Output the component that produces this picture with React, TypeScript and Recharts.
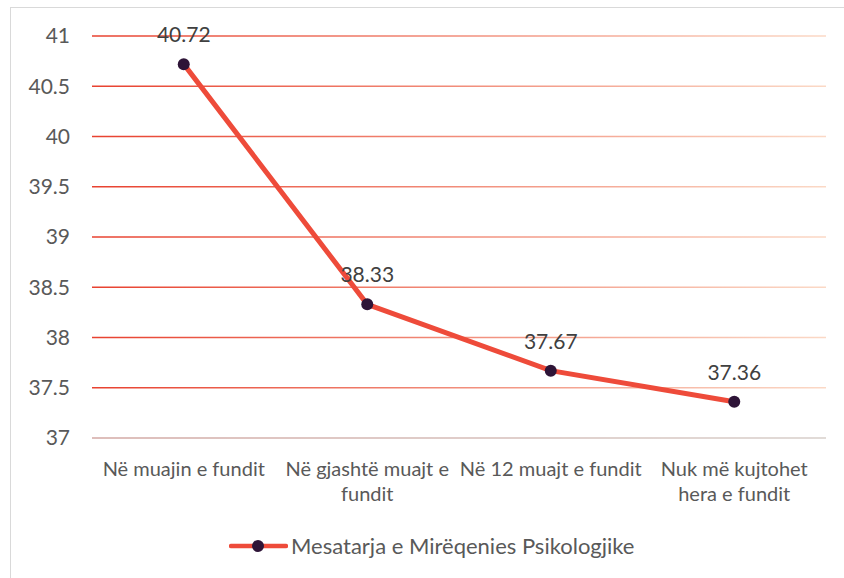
import { LineChart, Line, XAxis, YAxis, CartesianGrid, LabelList, Legend } from 'recharts';

const CATEGORIES = [
  'Në muajin e fundit',
  'Në gjashtë muajt e fundit',
  'Në 12 muajt e fundit',
  'Nuk më kujtohet hera e fundit',
];
const MEAN_VALUES = [40.72, 38.33, 37.67, 37.36];
const Y_TICKS = [37, 37.5, 38, 38.5, 39, 39.5, 40, 40.5, 41];
const SERIES_NAME = 'Mesatarja e Mirëqenies Psikologjike';

const data = CATEGORIES.map((name, i) => ({ name, value: MEAN_VALUES[i] }));

const FONT = 'Lato, "Open Sans", sans-serif';
const LINE_RED = '#EE4B3A';
const DOT_DARK = '#2E1437';
const TICK_SIZE = 20;

let measureCtx: CanvasRenderingContext2D | null = null;
function wrapLabel(text: string, maxWidth: number): string[] {
  if (!measureCtx) measureCtx = document.createElement('canvas').getContext('2d');
  if (!measureCtx) return [text];
  measureCtx.font = `${TICK_SIZE}px Lato`;
  const lines: string[] = [];
  let current = '';
  for (const word of text.split(' ')) {
    const next = current ? `${current} ${word}` : word;
    if (current && measureCtx.measureText(next).width > maxWidth) {
      lines.push(current);
      current = word;
    } else {
      current = next;
    }
  }
  if (current) lines.push(current);
  return lines;
}

function CategoryTick(props: any) {
  const { x, y, payload } = props;
  const lines = wrapLabel(payload.value, 186);
  return (
    <text x={x} y={y + 30} textAnchor="middle" fill="#595959" fontSize={TICK_SIZE} fontFamily={FONT}>
      {lines.map((line, i) => (
        <tspan key={i} x={x} dy={i === 0 ? 0 : 25}>
          {line}
        </tspan>
      ))}
    </text>
  );
}

function LegendContent() {
  return (
    <div style={{ display: 'flex', alignItems: 'center', paddingLeft: 219, paddingTop: 14, fontFamily: FONT, fontSize: 22, color: '#595959' }}>
      <svg width={59} height={14} style={{ marginRight: 3 }}>
        <line x1={2} y1={7} x2={57} y2={7} stroke={LINE_RED} strokeWidth={4.5} strokeLinecap="round" />
        <circle cx={29} cy={7} r={6} fill={DOT_DARK} />
      </svg>
      <span>{SERIES_NAME}</span>
    </div>
  );
}

export default function App() {
  return (
    <div style={{ position: 'absolute', left: 0, top: 0, width: 844, height: 578, overflow: 'hidden', background: '#fff' }}>
      <div style={{ position: 'absolute', left: 10, top: 7, width: 840, height: 600, border: '1px solid #d9d9d9' }} />
      <LineChart width={844} height={578} data={data} margin={{ top: 36, right: 18, bottom: 4, left: 10 }}>
        <defs>
          <linearGradient id="gridFade" gradientUnits="userSpaceOnUse" x1={92} y1={0} x2={826} y2={0}>
            <stop offset="0%" stopColor="#E8412F" />
            <stop offset="100%" stopColor="#FBD9C6" />
          </linearGradient>
        </defs>
        <CartesianGrid vertical={false} stroke="url(#gridFade)" strokeWidth={1.5} />
        <XAxis
          dataKey="name"
          tick={<CategoryTick />}
          tickLine={false}
          axisLine={{ stroke: '#d9d9d9', strokeWidth: 1.5 }}
          interval={0}
          height={80}
          padding={{ left: 91.75, right: 91.75 }}
        />
        <YAxis
          domain={[37, 41]}
          ticks={Y_TICKS}
          tick={{ fill: '#595959', fontSize: 21, fontFamily: FONT }}
          tickLine={false}
          axisLine={false}
          width={82}
          tickMargin={16}
        />
        <Legend verticalAlign="bottom" height={56} content={<LegendContent />} />
        <Line
          type="linear"
          dataKey="value"
          name={SERIES_NAME}
          stroke={LINE_RED}
          strokeWidth={5}
          dot={{ r: 6, fill: DOT_DARK, stroke: DOT_DARK, strokeWidth: 0 }}
          isAnimationActive={false}
        >
          <LabelList dataKey="value" position="top" offset={22} fill="#404040" fontSize={21} fontFamily={FONT} />
        </Line>
      </LineChart>
    </div>
  );
}
